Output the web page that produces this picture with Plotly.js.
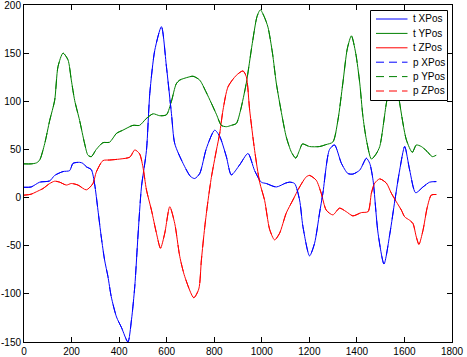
<!DOCTYPE html>
<html>
<head>
<meta charset="utf-8">
<script src="https://cdn.plot.ly/plotly-3.0.1.min.js"></script>
<style>html,body{margin:0;padding:0;background:#fff;}#chart{width:467px;height:357px;}</style>
</head>
<body>
<div id="chart"></div>
<script>
// ---- data ----
const seriesNames = ["t XPos", "t YPos", "t ZPos", "p XPos", "p YPos", "p ZPos"];

const xposX = [0,30,66,108,129,164,192,206,234,248,262,283,297,311,325,339,353,367,389,410,437,452,466,479,494,515,529,550,578,599,620,634,669,700,718,739,767,802,823,851,872,907,942,970,998,1019,1061,1100,1117,1138,1159,1173,1201,1222,1243,1257,1285,1306,1335,1362,1383,1412,1440,1454,1468,1489,1514,1539,1560,1580,1601,1622,1647,1678,1706,1734];
const xposY = [10.7,11,16,17.3,23,27,28,35.5,36.6,35.5,32,29,14,-13,-41,-65,-82,-103,-124,-135,-150,-127,-92,-41,11,49,108,153,177.5,136,87.5,56,35.5,22,19.8,25,51,70,63.6,42.5,23.6,34,45.8,28,16,14.6,11,15,16,14.6,-2.5,-30,-60.6,-47.5,-16,4.5,50,54.6,35.5,25,24.4,28.5,40.8,35.5,18,-37,-69,-37,-2.5,28.6,53,28.5,5,11,16,16.6];

const yposX = [0,30,52,66,87,108,129,143,164,185,199,213,234,255,269,283,304,332,360,389,416,458,486,514,543,571,599,620,640,655,690,711,739,765,788,810,830,851,872,893,910,935,960,980,994,1010,1026,1045,1061,1085,1103,1125,1143,1160,1171,1201,1243,1270,1299,1320,1341,1360,1377,1395,1412,1425,1440,1461,1480,1496,1524,1540,1555,1570,1580,1608,1633,1650,1671,1695,1717,1734];
const yposY = [35,35,36,39,56,80,101,136,150,143,122,101,80,56,44,42.5,50,57,57.5,66.7,70,75,75,82,87,85,86,100,118,122,125,126,122,110,98,86,75,73.6,75,77,90,119,160,188,195,188,177,150,119,85,63,47,41,50,55.7,53,53,55,57.7,80,119,155,168,150,119,85,60,40,45,53,98,118,125,115,98,60,47,54.6,53,48,42.5,44];

const zposX = [0,30,52,80,108,129,150,178,199,227,262,290,304,332,360,403,445,466,486,500,515,536,557,574,592,613,634,655,676,714,735,746,760,774,788,809,823,837,858,893,921,935,949,970,991,1012,1033,1054,1075,1103,1131,1159,1187,1201,1229,1250,1271,1299,1327,1355,1383,1419,1447,1461,1475,1496,1524,1545,1566,1587,1601,1622,1636,1650,1661,1678,1696,1713,1734];
const zposY = [2.5,3.5,6,9.4,14.6,17,16,13,14.6,13,8,14.6,26.5,38.4,39,40,42,49.5,45.5,32,8,-13,-37,-52.6,-37,-9.5,-27,-61,-82,-104,-95,-65,-31,-3,21,49,66.5,91,115,127,131.5,125.5,91,49,16,-3,-33,-44,-37,-16,-2.5,11,21.5,23,18,4.5,-13,-18,-11,-14.6,-19,-15.6,-14.6,4.5,15,19.4,15,4.5,-4.4,-13,-20,-23.6,-27,-41,-48.6,-34,-10,2.6,3.2];

const xTicks = [0,200,400,600,800,1000,1200,1400,1600,1800];
const yTicks = [-150,-100,-50,0,50,100,150,200];

// ---- styling ----
const colors = ["#0000ff", "#008000", "#ff0000"];
const xs = [xposX, yposX, zposX];
const ys = [xposY, yposY, zposY];
const FONT = "Liberation Sans, Arial, sans-serif";

const traces = [];
for (let k = 0; k < 6; k++) {
  const i = k % 3;
  traces.push({
    x: xs[i], y: ys[i], name: seriesNames[k], type: "scatter", mode: "lines",
    line: {color: colors[i], width: 1, dash: k < 3 ? "solid" : "dash", shape: "spline", smoothing: 0.7},
    showlegend: false, hoverinfo: "skip"
  });
}

// custom compact legend (MATLAB style box)
const W = 467, H = 357, mL = 24, mR = 15, mT = 5, mB = 15;
const pw = W - mL - mR, ph = H - mT - mB;
const px = v => (v - mL) / pw;
const py = v => 1 - (v - mT) / ph;
const shapes = [{type: "rect", xref: "paper", yref: "paper", x0: px(370.5), x1: px(447.5), y0: py(100.5), y1: py(10.5),
  line: {color: "#000", width: 1}, fillcolor: "#fff", layer: "above"}];
const annotations = [];
for (let k = 0; k < 6; k++) {
  const rowY = 19 + k * 14.4;
  shapes.push({type: "line", xref: "paper", yref: "paper", x0: px(376), x1: px(407.5), y0: py(rowY), y1: py(rowY),
    line: {color: colors[k % 3], width: 1, dash: k < 3 ? "solid" : "8px,5px"}, layer: "above"});
  annotations.push({xref: "paper", yref: "paper", x: px(410.5), y: py(rowY), xanchor: "left", yanchor: "middle",
    text: seriesNames[k], showarrow: false, font: {family: FONT, size: 10, color: "#000"}});
}

const axisCommon = {showline: true, linecolor: "#000", linewidth: 1, mirror: "ticks", ticks: "inside", ticklen: 5,
  tickcolor: "#000", showgrid: false, zeroline: false, ticklabeloverflow: "allow",
  tickfont: {family: FONT, size: 10, color: "#000"}};

const layout = {
  width: W, height: H, margin: {l: mL, r: mR, t: mT, b: mB, pad: 0},
  paper_bgcolor: "#fff", plot_bgcolor: "#fff", showlegend: false,
  xaxis: Object.assign({}, axisCommon, {range: [0, 1800], tickvals: xTicks, ticktext: xTicks.map(String)}),
  yaxis: Object.assign({}, axisCommon, {range: [-150, 200], tickvals: yTicks, ticktext: yTicks.map(String)}),
  shapes: shapes, annotations: annotations
};

Plotly.newPlot("chart", traces, layout, {staticPlot: true, displayModeBar: false});
</script>
</body>
</html>
